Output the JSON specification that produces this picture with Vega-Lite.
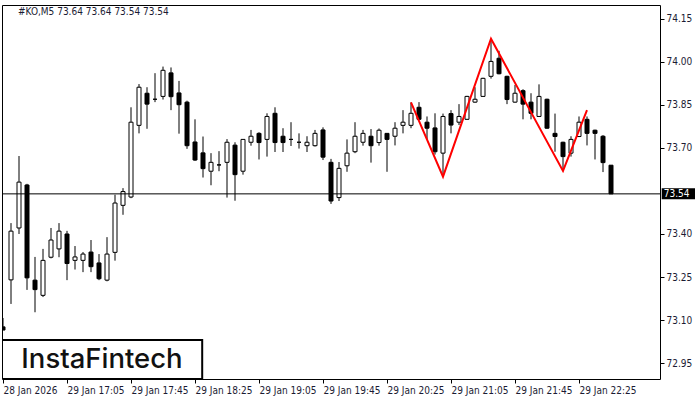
{
  "$schema": "https://vega.github.io/schema/vega-lite/v6.json",
  "width": 658,
  "height": 374,
  "autosize": {"type": "none"},
  "padding": {"left": 2, "top": 5, "right": 40, "bottom": 21},
  "background": "white",
  "config": {
    "view": {"stroke": "black", "strokeWidth": 1},
    "axis": {"domain": false, "grid": false, "labelFont": "DejaVu Sans Condensed", "labelFontSize": 10, "labelColor": "#1b1b33", "tickColor": "#000000", "tickSize": 4, "title": null}
  },
  "title": {"text": "#KO,M5  73.64 73.64 73.54 73.54", "anchor": "start", "frame": "group", "offset": -12, "dx": 16, "fontSize": 10, "fontWeight": "normal", "font": "DejaVu Sans Condensed", "color": "#1b1b33"},
  "datasets": {
    "candles": [
      {"i":0,"o":73.076,"h":73.107,"l":73.065,"c":73.065},
      {"i":1,"o":73.24,"h":73.438,"l":73.156,"c":73.41},
      {"i":2,"o":73.421,"h":73.672,"l":73.40,"c":73.581},
      {"i":3,"o":73.571,"h":73.575,"l":73.205,"c":73.247},
      {"i":4,"o":73.239,"h":73.32,"l":73.127,"c":73.206},
      {"i":5,"o":73.186,"h":73.348,"l":73.18,"c":73.308},
      {"i":6,"o":73.319,"h":73.421,"l":73.315,"c":73.379},
      {"i":7,"o":73.348,"h":73.438,"l":73.319,"c":73.41},
      {"i":8,"o":73.40,"h":73.411,"l":73.239,"c":73.297},
      {"i":9,"o":73.308,"h":73.358,"l":73.276,"c":73.32},
      {"i":10,"o":73.308,"h":73.337,"l":73.267,"c":73.33},
      {"i":11,"o":73.337,"h":73.379,"l":73.267,"c":73.286},
      {"i":12,"o":73.299,"h":73.33,"l":73.239,"c":73.244},
      {"i":13,"o":73.239,"h":73.389,"l":73.235,"c":73.33},
      {"i":14,"o":73.336,"h":73.537,"l":73.307,"c":73.508},
      {"i":15,"o":73.50,"h":73.56,"l":73.467,"c":73.548},
      {"i":16,"o":73.529,"h":73.842,"l":73.525,"c":73.79},
      {"i":17,"o":73.779,"h":73.923,"l":73.751,"c":73.912},
      {"i":18,"o":73.891,"h":73.912,"l":73.767,"c":73.853},
      {"i":19,"o":73.87,"h":73.961,"l":73.86,"c":73.87},
      {"i":20,"o":73.88,"h":73.984,"l":73.869,"c":73.971},
      {"i":21,"o":73.962,"h":73.981,"l":73.832,"c":73.879},
      {"i":22,"o":73.892,"h":73.934,"l":73.75,"c":73.851},
      {"i":23,"o":73.86,"h":73.865,"l":73.697,"c":73.708},
      {"i":24,"o":73.721,"h":73.80,"l":73.655,"c":73.658},
      {"i":25,"o":73.683,"h":73.74,"l":73.597,"c":73.628},
      {"i":26,"o":73.619,"h":73.682,"l":73.57,"c":73.65},
      {"i":27,"o":73.641,"h":73.689,"l":73.619,"c":73.641},
      {"i":28,"o":73.65,"h":73.731,"l":73.527,"c":73.72},
      {"i":29,"o":73.71,"h":73.72,"l":73.516,"c":73.607},
      {"i":30,"o":73.619,"h":73.73,"l":73.607,"c":73.73},
      {"i":31,"o":73.72,"h":73.763,"l":73.708,"c":73.741},
      {"i":32,"o":73.751,"h":73.755,"l":73.66,"c":73.719},
      {"i":33,"o":73.73,"h":73.821,"l":73.67,"c":73.81},
      {"i":34,"o":73.821,"h":73.842,"l":73.686,"c":73.719},
      {"i":35,"o":73.741,"h":73.769,"l":73.686,"c":73.719},
      {"i":36,"o":73.73,"h":73.79,"l":73.707,"c":73.73},
      {"i":37,"o":73.72,"h":73.751,"l":73.698,"c":73.72},
      {"i":38,"o":73.708,"h":73.741,"l":73.686,"c":73.72},
      {"i":39,"o":73.708,"h":73.763,"l":73.705,"c":73.751},
      {"i":40,"o":73.763,"h":73.772,"l":73.658,"c":73.668},
      {"i":41,"o":73.65,"h":73.662,"l":73.505,"c":73.515},
      {"i":42,"o":73.527,"h":73.651,"l":73.515,"c":73.629},
      {"i":43,"o":73.638,"h":73.73,"l":73.617,"c":73.682},
      {"i":44,"o":73.687,"h":73.79,"l":73.682,"c":73.741},
      {"i":45,"o":73.72,"h":73.763,"l":73.708,"c":73.751},
      {"i":46,"o":73.741,"h":73.766,"l":73.649,"c":73.708},
      {"i":47,"o":73.719,"h":73.768,"l":73.708,"c":73.762},
      {"i":48,"o":73.751,"h":73.752,"l":73.617,"c":73.73},
      {"i":49,"o":73.741,"h":73.79,"l":73.709,"c":73.769},
      {"i":50,"o":73.779,"h":73.832,"l":73.751,"c":73.79},
      {"i":51,"o":73.779,"h":73.859,"l":73.769,"c":73.821},
      {"i":52,"o":73.842,"h":73.86,"l":73.80,"c":73.80},
      {"i":53,"o":73.79,"h":73.81,"l":73.73,"c":73.769},
      {"i":54,"o":73.77,"h":73.821,"l":73.677,"c":73.687},
      {"i":55,"o":73.682,"h":73.82,"l":73.60,"c":73.81},
      {"i":56,"o":73.82,"h":73.832,"l":73.751,"c":73.78},
      {"i":57,"o":73.79,"h":73.853,"l":73.78,"c":73.81},
      {"i":58,"o":73.80,"h":73.882,"l":73.798,"c":73.88},
      {"i":59,"o":73.86,"h":73.912,"l":73.858,"c":73.87},
      {"i":60,"o":73.88,"h":73.945,"l":73.878,"c":73.943},
      {"i":61,"o":73.95,"h":74.08,"l":73.942,"c":74.002},
      {"i":62,"o":74.013,"h":74.039,"l":73.957,"c":73.959},
      {"i":63,"o":73.95,"h":73.952,"l":73.853,"c":73.869},
      {"i":64,"o":73.86,"h":73.92,"l":73.858,"c":73.891},
      {"i":65,"o":73.90,"h":73.905,"l":73.80,"c":73.853},
      {"i":66,"o":73.86,"h":73.891,"l":73.80,"c":73.821},
      {"i":67,"o":73.81,"h":73.922,"l":73.808,"c":73.88},
      {"i":68,"o":73.87,"h":73.872,"l":73.767,"c":73.769},
      {"i":69,"o":73.751,"h":73.82,"l":73.687,"c":73.74},
      {"i":70,"o":73.72,"h":73.722,"l":73.623,"c":73.67},
      {"i":71,"o":73.682,"h":73.741,"l":73.67,"c":73.73},
      {"i":72,"o":73.74,"h":73.81,"l":73.738,"c":73.79},
      {"i":73,"o":73.80,"h":73.81,"l":73.709,"c":73.751},
      {"i":74,"o":73.762,"h":73.764,"l":73.66,"c":73.751},
      {"i":75,"o":73.741,"h":73.745,"l":73.616,"c":73.649},
      {"i":76,"o":73.64,"h":73.64,"l":73.54,"c":73.54}
    ],
    "pattern": [
      {"i":51,"v":73.859},
      {"i":55,"v":73.60},
      {"i":61,"v":74.081},
      {"i":70,"v":73.62},
      {"i":73,"v":73.832}
    ]
  },
  "layer": [
    {
      "data": {"name": "candles"},
      "mark": {"type": "rule", "color": "black", "strokeWidth": 1, "clip": true},
      "encoding": {
        "x": {"field": "i", "type": "quantitative", "scale": {"domain": [-0.125, 82.125], "nice": false, "zero": false, "padding": 0},
          "axis": {"orient": "bottom", "values": [0,8,16,24,32,40,48,56,64,72], "labelAlign": "left", "labelPadding": 2, "labelFlush": false, "labelOverlap": false, "labelBound": false,
            "labelExpr": "['28 Jan 2026','29 Jan 17:05','29 Jan 17:45','29 Jan 18:25','29 Jan 19:05','29 Jan 19:45','29 Jan 20:25','29 Jan 21:05','29 Jan 21:45','29 Jan 22:25'][round(datum.value/8)]"}},
        "y": {"field": "l", "type": "quantitative", "scale": {"domain": [72.8942, 74.1988], "nice": false, "zero": false, "padding": 0},
          "axis": {"orient": "right", "values": [72.95,73.10,73.25,73.40,73.70,73.85,74.00,74.15], "format": ".2f", "labelPadding": 2, "labelOverlap": false, "labelFlush": false}},
        "y2": {"field": "h"}
      }
    },
    {
      "data": {"name": "candles"},
      "mark": {"type": "bar", "size": 4, "stroke": "black", "strokeWidth": 1, "clip": true},
      "encoding": {
        "x": {"field": "i", "type": "quantitative"},
        "y": {"field": "o", "type": "quantitative"},
        "y2": {"field": "c"},
        "fill": {"condition": {"test": "datum.c >= datum.o", "value": "white"}, "value": "black"}
      }
    },
    {
      "data": {"values": [{"price": 73.54}]},
      "mark": {"type": "rule", "color": "black", "strokeWidth": 1},
      "encoding": {"y": {"field": "price", "type": "quantitative"}}
    },
    {
      "data": {"name": "pattern"},
      "mark": {"type": "line", "color": "#ff0000", "strokeWidth": 2},
      "encoding": {
        "x": {"field": "i", "type": "quantitative"},
        "y": {"field": "v", "type": "quantitative"}
      }
    },
    {
      "data": {"values": [{"price": 73.54}]},
      "mark": {"type": "rect", "fill": "black", "clip": false},
      "encoding": {
        "x": {"datum": 82.34}, "x2": {"datum": 86.5},
        "y": {"datum": 73.5594}, "y2": {"datum": 73.521}
      }
    },
    {
      "data": {"values": [{"price": 73.54}]},
      "mark": {"type": "text", "color": "white", "align": "left", "baseline": "middle", "font": "DejaVu Sans Condensed", "fontSize": 10, "clip": false},
      "encoding": {"x": {"datum": 82.6}, "y": {"field": "price", "type": "quantitative"}, "text": {"field": "price", "type": "quantitative", "format": ".2f"}}
    },
    {
      "data": {"values": [{"brand": "InstaFintech"}]},
      "mark": {"type": "rect", "fill": "white", "stroke": "black", "strokeWidth": 2, "clip": true},
      "encoding": {
        "x": {"datum": -0.125}, "x2": {"datum": 24.9},
        "y": {"datum": 73.0303}, "y2": {"datum": 72.8942}
      }
    },
    {
      "data": {"values": [{"brand": "InstaFintech"}]},
      "mark": {"type": "text", "color": "#111111", "align": "center", "baseline": "middle", "font": "Inter", "fontWeight": 500, "fontSize": 27.5},
      "encoding": {"x": {"datum": 12.375}, "y": {"datum": 72.9605}, "text": {"field": "brand", "type": "nominal"}}
    }
  ]
}
